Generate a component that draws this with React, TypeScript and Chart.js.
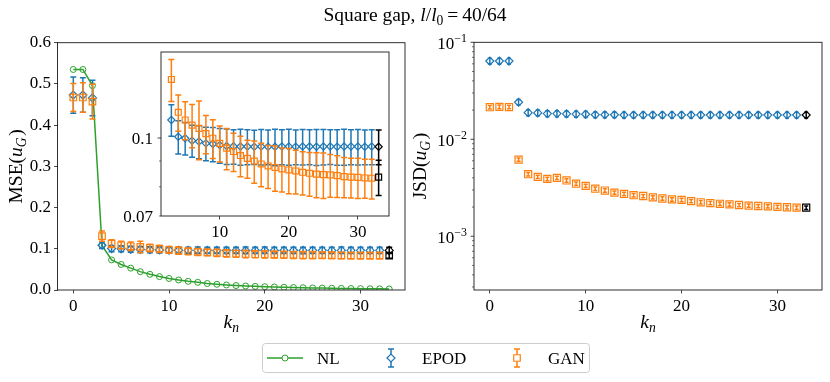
import React, { useEffect, useRef } from "react";
import { Chart, registerables } from "chart.js";

Chart.register(...registerables);

const W = 830;
const H = 382;
const SERIF = "'Liberation Serif', 'Times New Roman', Times, serif";
const BLUE = "#1f77b4";
const ORANGE = "#ff7f0e";
const GREEN = "#2ca02c";
const BLACK = "#000000";
const AXIS = "#1a1a1a";
const TICK_FONT = 17;
const LABEL_FONT = 19.5;
const TITLE_FONT = 19.5;
const LEGEND_FONT = 17;

// ---------------- data ----------------
const K_ALL = [0, 1, 2, 3, 4, 5, 6, 7, 8, 9, 10, 11, 12, 13, 14, 15, 16, 17, 18, 19, 20, 21, 22, 23, 24, 25, 26, 27, 28, 29, 30, 31, 32, 33];
const K_MODEL = [0, 1, 2, 3, 4, 5, 6, 7, 8, 9, 10, 11, 12, 13, 14, 15, 16, 17, 18, 19, 20, 21, 22, 23, 24, 25, 26, 27, 28, 29, 30, 31, 32];
const K_REF = 33;
const INSET_START = 3;

const MSE_NL = [0.535, 0.535, 0.496, 0.108, 0.073, 0.062, 0.053, 0.0445, 0.038, 0.0325, 0.028, 0.0243, 0.021, 0.0186, 0.0158, 0.0138, 0.0122, 0.0108, 0.0097, 0.0088, 0.008, 0.0073, 0.0066, 0.006, 0.0055, 0.005, 0.0046, 0.0042, 0.0039, 0.0036, 0.0033, 0.003, 0.0028, 0.0025];

const MSE_EPOD = [0.473, 0.473, 0.466, 0.1086, 0.1006, 0.0999, 0.0988, 0.0984, 0.0976, 0.0973, 0.0968, 0.0964, 0.0963, 0.0962, 0.0962, 0.0961, 0.0962, 0.0961, 0.0961, 0.0962, 0.0962, 0.0961, 0.0962, 0.0962, 0.0961, 0.0962, 0.0962, 0.0961, 0.0962, 0.0962, 0.0962, 0.0961, 0.0962];
const MSE_EPOD_ERR = [0.044, 0.042, 0.043, 0.0078, 0.0076, 0.0074, 0.0072, 0.0074, 0.0075, 0.0076, 0.0077, 0.0078, 0.0076, 0.0079, 0.0077, 0.0075, 0.0078, 0.0076, 0.008, 0.0077, 0.0079, 0.0076, 0.0078, 0.0077, 0.0079, 0.0078, 0.0076, 0.0078, 0.0079, 0.0077, 0.0078, 0.0076, 0.0077];
const MSE_GAN = [0.467, 0.467, 0.457, 0.1307, 0.1125, 0.1086, 0.1061, 0.1045, 0.102, 0.0999, 0.0976, 0.0955, 0.094, 0.0923, 0.0911, 0.09, 0.0888, 0.088, 0.0874, 0.0868, 0.0864, 0.086, 0.0855, 0.0851, 0.0848, 0.0846, 0.0845, 0.0842, 0.0838, 0.0836, 0.0835, 0.0833, 0.0832];
const MSE_GAN_ERR = [0.034, 0.036, 0.042, 0.0125, 0.0093, 0.0094, 0.0105, 0.014, 0.0089, 0.0088, 0.008, 0.009, 0.0082, 0.0085, 0.0079, 0.0087, 0.0088, 0.0086, 0.009, 0.0087, 0.0089, 0.0086, 0.0084, 0.0085, 0.0087, 0.0088, 0.0082, 0.008, 0.0077, 0.0076, 0.0077, 0.0074, 0.0075];
const MSE_EPOD_REF = [0.0961];
const MSE_EPOD_REF_ERR = [0.0076];
const MSE_GAN_REF = [0.0836];
const MSE_GAN_REF_ERR = [0.0067];

const JSD_EPOD = [0.0641, 0.0641, 0.0641, 0.0241, 0.0188, 0.0187, 0.0184, 0.0184, 0.0183, 0.0182, 0.0181, 0.0179, 0.0179, 0.0179, 0.0178, 0.0178, 0.0178, 0.0178, 0.0178, 0.0178, 0.0178, 0.0178, 0.0178, 0.0178, 0.0178, 0.0178, 0.0178, 0.0178, 0.0178, 0.0178, 0.0178, 0.0178, 0.0178];
const JSD_EPOD_ERR = [0.0045, 0.0045, 0.0045, 0.0016, 0.0013, 0.0013, 0.0013, 0.0013, 0.0013, 0.0013, 0.0013, 0.0012, 0.0012, 0.0012, 0.0012, 0.0012, 0.0012, 0.0012, 0.0012, 0.0012, 0.0012, 0.0012, 0.0012, 0.0012, 0.0012, 0.0012, 0.0012, 0.0012, 0.0012, 0.0012, 0.0012, 0.0012, 0.0012];
const JSD_GAN = [0.0214, 0.0216, 0.0215, 0.00617, 0.00436, 0.00409, 0.0039, 0.004, 0.00376, 0.00348, 0.00331, 0.00309, 0.00296, 0.00282, 0.00273, 0.00265, 0.0026, 0.00252, 0.00245, 0.0024, 0.00237, 0.0023, 0.00224, 0.0022, 0.00216, 0.00213, 0.0021, 0.00207, 0.00205, 0.00203, 0.00201, 0.00199, 0.00197];
const JSD_GAN_ERR = [0.0009, 0.0009, 0.0009, 0.00025, 0.00018, 0.00016, 0.00016, 0.00016, 0.00015, 0.00014, 0.00013, 0.00012, 0.00012, 0.00011, 0.00011, 0.00011, 0.0001, 0.0001, 0.0001, 0.0001, 0.0001, 0.00009, 0.00009, 0.00009, 0.00009, 0.00009, 0.00008, 0.00008, 0.00008, 0.00008, 0.00008, 0.00008, 0.00008];
const JSD_EPOD_REF = [0.0178];
const JSD_EPOD_REF_ERR = [0.0012];
const JSD_GAN_REF = [0.00197];
const JSD_GAN_REF_ERR = [0.00008];

const K_TICKS = [0, 10, 20, 30];
const INSET_K_TICKS = [10, 20, 30];
const MSE_TICKS = [0, 0.1, 0.2, 0.3, 0.4, 0.5, 0.6];
const INSET_Y_TICKS = [0.07, 0.08, 0.09, 0.1];
const INSET_Y_MAJOR = [false, false, false, true];
const INSET_Y_LABELS = ["0.07", "", "", "0.1"];
const JSD_DECADES = [-3, -2, -1];
const JSD_MINOR_DECADES = [-4, -3, -2];
const MINOR_MANTISSA = [2, 3, 4, 5, 6, 7, 8, 9];
const LEGEND_LABELS = ["NL", "EPOD", "GAN"];

// ---------------- layout ----------------
const LEFT_AREA = { L: 57.5, R: 405, T: 42.7, B: 290 };
const RIGHT_AREA = { L: 474, R: 822, T: 42.3, B: 290 };
const INSET_AREA = { L: 161, R: 389, T: 52, B: 216 };
const K_RANGE = [-1.65, 34.65];
const INSET_K_RANGE = [1.5, 34.5];
const MSE_RANGE = [0, 0.6];
const INSET_Y_RANGE = [0.07, 0.1482];
const JSD_RANGE = [0.000279, 0.1];

type Seg = { t: string; it?: boolean; sub?: boolean; sup?: boolean };

function drawRich(ctx: CanvasRenderingContext2D, segs: Seg[], x: number, y: number, size: number, rot = 0, align = "center") {
  ctx.save();
  ctx.translate(x, y);
  ctx.rotate(rot);
  ctx.textBaseline = "alphabetic";
  ctx.textAlign = "left";
  const fontOf = (s: Seg) => `${s.it ? "italic " : ""}${s.sub || s.sup ? (size * 0.7).toFixed(1) : size}px ${SERIF}`;
  let total = 0;
  const widths = segs.map((s) => {
    ctx.font = fontOf(s);
    const w = ctx.measureText(s.t).width;
    total += w;
    return w;
  });
  let cx = align === "center" ? -total / 2 : align === "right" ? -total : 0;
  segs.forEach((s, i) => {
    ctx.font = fontOf(s);
    const dy = s.sub ? size * 0.22 : s.sup ? -size * 0.42 : 0;
    ctx.fillText(s.t, cx, dy);
    cx += widths[i];
  });
  ctx.restore();
}

const errorBarPlugin = {
  id: "errorBars",
  beforeDatasetDraw(chart: any, args: any) {
    const ds = chart.data.datasets[args.index];
    if (!ds.errs) return;
    const xs = chart.scales.x;
    const ys = chart.scales.y;
    const a = chart.chartArea;
    const ctx = chart.ctx as CanvasRenderingContext2D;
    ctx.save();
    ctx.beginPath();
    ctx.rect(a.left, a.top, a.right - a.left, a.bottom - a.top);
    ctx.clip();
    ctx.strokeStyle = ds.borderColor;
    ctx.lineWidth = ds.errWidth ?? 1.5;
    const cap = ds.capHalf ?? 3;
    ds.data.forEach((p: any, i: number) => {
      const e = ds.errs[i];
      const x = xs.getPixelForValue(p.x);
      const y1 = ys.getPixelForValue(p.y + e);
      const lo = p.y - e;
      const y2 = lo > 0 || ys.type !== "logarithmic" ? ys.getPixelForValue(lo) : a.bottom + 10;
      ctx.beginPath();
      ctx.moveTo(x, y1);
      ctx.lineTo(x, y2);
      ctx.moveTo(x - cap, y1);
      ctx.lineTo(x + cap, y1);
      ctx.moveTo(x - cap, y2);
      ctx.lineTo(x + cap, y2);
      ctx.stroke();
    });
    ctx.restore();
  },
};

const framePlugin = {
  id: "frame",
  beforeDraw(chart: any) {
    if (!chart.options.plugins.frame?.fill) return;
    const a = chart.chartArea;
    const ctx = chart.ctx;
    ctx.save();
    ctx.fillStyle = "#ffffff";
    ctx.fillRect(a.left, a.top, a.right - a.left, a.bottom - a.top);
    ctx.restore();
  },
  afterDraw(chart: any) {
    const a = chart.chartArea;
    const ctx = chart.ctx;
    ctx.save();
    ctx.strokeStyle = AXIS;
    ctx.lineWidth = 0.9;
    ctx.strokeRect(a.left, a.top, a.right - a.left, a.bottom - a.top);
    ctx.restore();
  },
};

type LogTick = { v: number; major: boolean; label?: Seg[] };

function logAxisPlugin(id: string, ticks: LogTick[], size: number, dy: number, gap: number) {
  return {
    id,
    afterDraw(chart: any) {
      const ys = chart.scales.y;
      const a = chart.chartArea;
      const ctx = chart.ctx as CanvasRenderingContext2D;
      ctx.save();
      ctx.strokeStyle = AXIS;
      ctx.fillStyle = "#000";
      ticks.forEach((t) => {
        if (t.v < ys.min * 0.9999 || t.v > ys.max * 1.0001) return;
        const y = ys.getPixelForValue(t.v);
        const len = t.major ? 3.5 : 2;
        ctx.lineWidth = t.major ? 0.8 : 0.6;
        ctx.beginPath();
        ctx.moveTo(a.left, y);
        ctx.lineTo(a.left - len, y);
        ctx.stroke();
        if (t.label && t.label.length) drawRich(ctx, t.label, a.left - gap, y + dy, size, 0, "right");
      });
      ctx.restore();
    },
  };
}

const TITLE: Seg[] = [{ t: "Square gap, " }, { t: "l", it: true }, { t: "/" }, { t: "l", it: true }, { t: "0", sub: true }, { t: "\u2009=\u200940/64" }];
const YLABEL_MSE: Seg[] = [{ t: "MSE(" }, { t: "u", it: true }, { t: "G", it: true, sub: true }, { t: "\u200a)" }];
const YLABEL_JSD: Seg[] = [{ t: "JSD(" }, { t: "u", it: true }, { t: "G", it: true, sub: true }, { t: "\u200a)" }];
const XLABEL: Seg[] = [{ t: "k", it: true }, { t: "n", it: true, sub: true }];

function drawMarker(ctx: CanvasRenderingContext2D, kind: string, x: number, y: number, r: number) {
  ctx.beginPath();
  if (kind === "diamond") {
    ctx.moveTo(x - r, y);
    ctx.lineTo(x, y - r);
    ctx.lineTo(x + r, y);
    ctx.lineTo(x, y + r);
    ctx.closePath();
  } else if (kind === "square") {
    const s = r * Math.SQRT1_2;
    ctx.rect(x - s, y - s, 2 * s, 2 * s);
  } else {
    ctx.arc(x, y, r, 0, Math.PI * 2);
  }
  ctx.fill();
  ctx.stroke();
}

const figurePlugin = {
  id: "figure",
  afterDraw(chart: any) {
    const ctx = chart.ctx as CanvasRenderingContext2D;
    ctx.save();
    ctx.fillStyle = "#000";
    drawRich(ctx, TITLE, 415, 21, TITLE_FONT);
    drawRich(ctx, YLABEL_MSE, 22, (LEFT_AREA.T + LEFT_AREA.B) / 2, LABEL_FONT, -Math.PI / 2);
    drawRich(ctx, YLABEL_JSD, 426, (RIGHT_AREA.T + RIGHT_AREA.B) / 2, LABEL_FONT, -Math.PI / 2);
    drawRich(ctx, XLABEL, (LEFT_AREA.L + LEFT_AREA.R) / 2, 328, LABEL_FONT);
    drawRich(ctx, XLABEL, (RIGHT_AREA.L + RIGHT_AREA.R) / 2, 328, LABEL_FONT);

    // legend
    const lx = 262.5, ly = 343.5, lw = 327, lh = 29, rr = 3;
    ctx.beginPath();
    ctx.moveTo(lx + rr, ly);
    ctx.arcTo(lx + lw, ly, lx + lw, ly + lh, rr);
    ctx.arcTo(lx + lw, ly + lh, lx, ly + lh, rr);
    ctx.arcTo(lx, ly + lh, lx, ly, rr);
    ctx.arcTo(lx, ly, lx + lw, ly, rr);
    ctx.closePath();
    ctx.fillStyle = "rgba(255,255,255,0.8)";
    ctx.fill();
    ctx.strokeStyle = "#cccccc";
    ctx.lineWidth = 1;
    ctx.stroke();
    const cy = ly + lh / 2;
    // NL
    ctx.strokeStyle = GREEN;
    ctx.lineWidth = 1.5;
    ctx.beginPath();
    ctx.moveTo(267, cy);
    ctx.lineTo(303, cy);
    ctx.stroke();
    ctx.lineWidth = 1;
    ctx.fillStyle = "#fff";
    drawMarker(ctx, "circle", 285, cy, 3);
    // EPOD / GAN icons
    const icon = (x: number, col: string, kind: string, r: number) => {
      ctx.strokeStyle = col;
      ctx.lineWidth = 1.5;
      ctx.beginPath();
      ctx.moveTo(x, cy - 9);
      ctx.lineTo(x, cy + 9);
      ctx.moveTo(x - 3, cy - 9);
      ctx.lineTo(x + 3, cy - 9);
      ctx.moveTo(x - 3, cy + 9);
      ctx.lineTo(x + 3, cy + 9);
      ctx.stroke();
      ctx.lineWidth = 1.2;
      ctx.fillStyle = "#fff";
      drawMarker(ctx, kind, x, cy, r);
    };
    icon(391, BLUE, "diamond", 4);
    icon(517, ORANGE, "square", 4.6);
    ctx.fillStyle = "#000";
    ctx.font = `${LEGEND_FONT}px ${SERIF}`;
    ctx.textBaseline = "alphabetic";
    ctx.textAlign = "left";
    ctx.fillText(LEGEND_LABELS[0], 317, cy + 6);
    ctx.fillText(LEGEND_LABELS[1], 422, cy + 6);
    ctx.fillText(LEGEND_LABELS[2], 548, cy + 6);
    ctx.restore();
  },
};

const pts = (ks: number[], vs: number[]) => ks.map((k, i) => ({ x: k, y: vs[i] }));

function markerSet(label: string, data: any[], errs: number[], color: string, style: string, r: number, order: number, capHalf = 3, errWidth = 1.5) {
  return {
    label,
    data,
    errs,
    capHalf,
    errWidth,
    borderColor: color,
    backgroundColor: "rgba(0,0,0,0)",
    pointBackgroundColor: "rgba(0,0,0,0)",
    pointBorderColor: color,
    pointBorderWidth: 1.2,
    pointStyle: style,
    pointRadius: r,
    showLine: false,
    order,
  };
}

function linearAxis(range: number[], ticks: number[], fmt: (v: number) => string, fitSize: (s: any) => void) {
  return {
    type: "linear",
    min: range[0],
    max: range[1],
    afterBuildTicks: (s: any) => {
      s.ticks = ticks.map((v) => ({ value: v }));
    },
    afterFit: fitSize,
    grid: { display: true, drawOnChartArea: false, drawTicks: true, tickLength: 3.5, color: AXIS, lineWidth: 0.8 },
    border: { display: false },
    ticks: { color: "#000", font: { family: SERIF, size: TICK_FONT }, padding: 3, maxRotation: 0, autoSkip: false, callback: (v: any) => fmt(Number(v)) },
  };
}

function baseOptions(area: any, yAxisW: number) {
  return {
    responsive: false,
    maintainAspectRatio: false,
    animation: false,
    devicePixelRatio: 1,
    events: [],
    layout: { padding: { left: area.L - yAxisW, right: W - area.R, top: area.T, bottom: 0 } },
    plugins: { legend: { display: false }, title: { display: false }, tooltip: { enabled: false } },
  };
}

function leftConfig(): any {
  const area = LEFT_AREA;
  const yW = 45;
  return {
    type: "scatter",
    data: {
      datasets: [
        markerSet("EPOD ref", pts([K_REF], MSE_EPOD_REF), MSE_EPOD_REF_ERR, BLACK, "rectRot", 4, 1),
        markerSet("GAN ref", pts([K_REF], MSE_GAN_REF), MSE_GAN_REF_ERR, BLACK, "rect", 4.6, 1),
        markerSet("GAN", pts(K_MODEL, MSE_GAN), MSE_GAN_ERR, ORANGE, "rect", 4.6, 2),
        markerSet("EPOD", pts(K_MODEL, MSE_EPOD), MSE_EPOD_ERR, BLUE, "rectRot", 4, 3),
        {
          label: "NL",
          data: pts(K_ALL, MSE_NL),
          borderColor: GREEN,
          backgroundColor: "rgba(0,0,0,0)",
          pointBackgroundColor: "rgba(0,0,0,0)",
          pointBorderColor: GREEN,
          pointBorderWidth: 1,
          borderWidth: 1.5,
          pointStyle: "circle",
          pointRadius: 3,
          showLine: true,
          tension: 0,
          order: 4,
        },
      ],
    },
    options: {
      ...baseOptions(area, yW),
      scales: {
        x: linearAxis(K_RANGE, K_TICKS, (v) => String(v), (s: any) => { s.height = H - area.B; }),
        y: linearAxis(MSE_RANGE, MSE_TICKS, (v) => v.toFixed(1), (s: any) => { s.width = yW; }),
      },
    },
    plugins: [errorBarPlugin, framePlugin, figurePlugin],
  };
}

function insetConfig(): any {
  const area = INSET_AREA;
  const yW = 30;
  const s = INSET_START;
  const ticks: LogTick[] = INSET_Y_TICKS.map((v, i) => ({
    v,
    major: INSET_Y_MAJOR[i],
    label: INSET_Y_LABELS[i] ? [{ t: INSET_Y_LABELS[i] }] : undefined,
  }));
  const opts: any = baseOptions(area, yW);
  opts.plugins.frame = { fill: true };
  return {
    type: "scatter",
    data: {
      datasets: [
        markerSet("EPOD ref", pts([K_REF], MSE_EPOD_REF), MSE_EPOD_REF_ERR, BLACK, "rectRot", 3.6, 1, 3),
        markerSet("GAN ref", pts([K_REF], MSE_GAN_REF), MSE_GAN_REF_ERR, BLACK, "rect", 4.2, 1, 3),
        markerSet("GAN", pts(K_MODEL.slice(s), MSE_GAN.slice(s)), MSE_GAN_ERR.slice(s), ORANGE, "rect", 4.2, 2, 3),
        markerSet("EPOD", pts(K_MODEL.slice(s), MSE_EPOD.slice(s)), MSE_EPOD_ERR.slice(s), BLUE, "rectRot", 3.6, 3, 3),
      ],
    },
    options: {
      ...opts,
      scales: {
        x: linearAxis(INSET_K_RANGE, INSET_K_TICKS, (v) => String(v), (sc: any) => { sc.height = H - area.B; }),
        y: {
          type: "logarithmic",
          min: INSET_Y_RANGE[0],
          max: INSET_Y_RANGE[1],
          afterFit: (sc: any) => { sc.width = yW; },
          grid: { display: false },
          border: { display: false },
          ticks: { display: false },
        },
      },
    },
    plugins: [framePlugin, errorBarPlugin, logAxisPlugin("insetLog", ticks, TICK_FONT, 6, 8)],
  };
}

function rightConfig(): any {
  const area = RIGHT_AREA;
  const yW = 50;
  const ticks: LogTick[] = [];
  JSD_DECADES.forEach((d) => {
    ticks.push({ v: Math.pow(10, d), major: true, label: [{ t: "10" }, { t: "\u2212" + String(-d), sup: true }] });
  });
  JSD_MINOR_DECADES.forEach((d) => {
    MINOR_MANTISSA.forEach((m) => ticks.push({ v: m * Math.pow(10, d), major: false }));
  });
  return {
    type: "scatter",
    data: {
      datasets: [
        markerSet("EPOD ref", pts([K_REF], JSD_EPOD_REF), JSD_EPOD_REF_ERR, BLACK, "rectRot", 4, 1, 2),
        markerSet("GAN ref", pts([K_REF], JSD_GAN_REF), JSD_GAN_REF_ERR, BLACK, "rect", 5, 1, 2),
        markerSet("GAN", pts(K_MODEL, JSD_GAN), JSD_GAN_ERR, ORANGE, "rect", 5, 2, 2),
        markerSet("EPOD", pts(K_MODEL, JSD_EPOD), JSD_EPOD_ERR, BLUE, "rectRot", 4, 3, 2),
      ],
    },
    options: {
      ...baseOptions(area, yW),
      scales: {
        x: linearAxis(K_RANGE, K_TICKS, (v) => String(v), (s: any) => { s.height = H - area.B; }),
        y: {
          type: "logarithmic",
          min: JSD_RANGE[0],
          max: JSD_RANGE[1],
          afterFit: (s: any) => { s.width = yW; },
          grid: { display: false },
          border: { display: false },
          ticks: { display: false },
        },
      },
    },
    plugins: [errorBarPlugin, framePlugin, logAxisPlugin("jsdLog", ticks, TICK_FONT, 6.5, 7)],
  };
}

export default function App() {
  const leftRef = useRef<HTMLCanvasElement>(null);
  const insetRef = useRef<HTMLCanvasElement>(null);
  const rightRef = useRef<HTMLCanvasElement>(null);

  useEffect(() => {
    document.body.style.margin = "0";
    const charts = [
      new Chart(leftRef.current as HTMLCanvasElement, leftConfig()),
      new Chart(rightRef.current as HTMLCanvasElement, rightConfig()),
      new Chart(insetRef.current as HTMLCanvasElement, insetConfig()),
    ];
    return () => charts.forEach((c) => c.destroy());
  }, []);

  const cs: React.CSSProperties = { position: "absolute", left: 0, top: 0, width: W, height: H };
  return (
    <div style={{ position: "relative", width: W, height: H, background: "#ffffff" }}>
      <canvas ref={leftRef} width={W} height={H} style={cs} />
      <canvas ref={rightRef} width={W} height={H} style={cs} />
      <canvas ref={insetRef} width={W} height={H} style={cs} />
    </div>
  );
}
